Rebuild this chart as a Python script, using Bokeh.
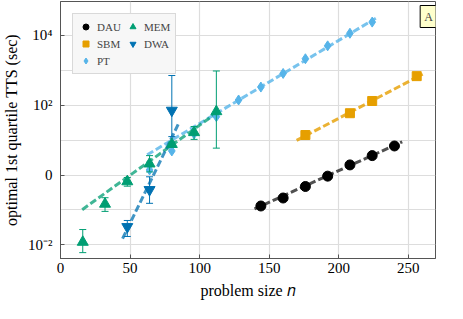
from bokeh.plotting import figure
from bokeh.models import (Range1d, FixedTicker, CustomJSTickFormatter, Whisker, TeeHead,
                          ColumnDataSource, Legend, LegendItem, Label)
from bokeh.embed import file_html
from bokeh.resources import INLINE

# ---- data ----
dau_n = [144, 160, 176, 192, 208, 224, 240]
dau_tts = [0.13, 0.22, 0.47, 0.93, 1.95, 3.6, 6.8]
dau_fit_n = [139.4, 245.6]
dau_fit_tts = [0.107, 8.97]

sbm_n = [176, 208, 224, 256]
sbm_tts = [14, 59, 132, 680]
sbm_fit_n = [169.7, 260.3]
sbm_fit_tts = [9.8, 776]

pt_n = [64, 80, 96, 112, 128, 144, 160, 176, 192, 208, 224]
pt_tts = [1.4, 4.9, 15, 47, 141, 331, 813, 2140, 5010, 11500, 24000]
pt_fit_n = [62.3, 226.6]
pt_fit_tts = [3.8, 30900]

mem_n = [16, 32, 48, 64, 80, 96, 112]
mem_tts = [0.012, 0.148, 0.65, 2.1, 7.6, 16.6, 66]
mem_lo = [0.006, 0.091, 0.48, 1.23, 6.3, 10.5, 5.9]
mem_hi = [0.0275, 0.224, 0.85, 3.6, 8.9, 24.5, 955]
mem_fit_n = [15.6, 113.3]
mem_fit_tts = [0.102, 64.6]

dwa_n = [48, 64, 80]
dwa_tts = [0.033, 0.38, 71]
dwa_lo = [0.0174, 0.155, 12.6]
dwa_hi = [0.050, 0.89, 708]
dwa_fit_n = [44.6, 85.3]
dwa_fit_tts = [0.0151, 32.4]

x_ticks = [0, 50, 100, 150, 200, 250]
y_ticks = [1e-2, 1, 1e2, 1e4]
y_minor = [1e-3, 1e-1, 1e1, 1e3]

FONT = "Liberation Serif"
C_DAU, C_DAU_LINE = "#000000", "#333333"
C_SBM = "#E69F00"
C_PT = "#56B4E9"
C_MEM = "#009E73"
C_DWA = "#0072B2"

p = figure(width=447, height=303, y_axis_type="log",
           x_range=Range1d(0, 269.5), y_range=Range1d(10 ** -2.39, 10 ** 4.97),
           output_backend="svg", toolbar_location=None,
           min_border_left=56, min_border_right=12, min_border_top=1, min_border_bottom=45)

p.background_fill_color = "white"
p.outline_line_color = "#555555"
p.outline_line_width = 1

# axes
p.xaxis.ticker = FixedTicker(ticks=x_ticks)
p.yaxis.ticker = FixedTicker(ticks=y_ticks, minor_ticks=y_minor)
p.yaxis.formatter = CustomJSTickFormatter(code="""
const k = Math.round(Math.log10(tick));
const m = {"-2": "10\u207b\u00b2", "0": "0", "2": "10\u00b2", "4": "10\u2074"};
return (k in m) ? m[k] : "";
""")
for ax in (p.xaxis, p.yaxis):
    ax.axis_line_color = "#555555"
    ax.major_tick_line_color = "#555555"
    ax.major_tick_in = 4
    ax.major_tick_out = 0
    ax.minor_tick_line_color = None
    ax.major_label_text_font = FONT
    ax.major_label_text_font_size = "15px"
    ax.major_label_text_color = "black"
    ax.axis_label_text_font = FONT
    ax.axis_label_text_font_size = "16px"
    ax.axis_label_text_font_style = "normal"
    ax.axis_label_text_color = "black"
    ax.major_label_standoff = 4
p.xaxis.axis_label = "problem size \U0001D45B"
p.yaxis.axis_label = "optimal 1st quartile TTS (sec)"
p.xaxis.axis_label_standoff = 6
p.yaxis.axis_label_standoff = 5

p.xgrid.grid_line_color = "#dddddd"
p.ygrid.grid_line_color = "#dddddd"
p.ygrid.minor_grid_line_color = "#dddddd"
p.xgrid.grid_line_width = 1.2
p.ygrid.grid_line_width = 1.2
p.ygrid.minor_grid_line_width = 1.2

# fit lines
dash = "7 3"
p.line(dau_fit_n, dau_fit_tts, line_color=C_DAU_LINE, line_width=3, line_dash=dash, line_alpha=0.85)
p.line(sbm_fit_n, sbm_fit_tts, line_color=C_SBM, line_width=3, line_dash=dash, line_alpha=0.8)
p.line(pt_fit_n, pt_fit_tts, line_color=C_PT, line_width=3, line_dash=dash, line_alpha=0.8)
p.line(mem_fit_n, mem_fit_tts, line_color=C_MEM, line_width=3, line_dash=dash, line_alpha=0.75)
p.line(dwa_fit_n, dwa_fit_tts, line_color=C_DWA, line_width=3, line_dash=dash, line_alpha=0.75)

# error bars
mem_src = ColumnDataSource(dict(n=mem_n, t=mem_tts, lo=mem_lo, hi=mem_hi))
dwa_src = ColumnDataSource(dict(n=dwa_n, t=dwa_tts, lo=dwa_lo, hi=dwa_hi))
for src, col in ((mem_src, C_MEM), (dwa_src, C_DWA)):
    w = Whisker(source=src, base="n", lower="lo", upper="hi", line_color=col, line_width=1,
                upper_head=TeeHead(size=7, line_color=col, line_width=1),
                lower_head=TeeHead(size=7, line_color=col, line_width=1), level="glyph")
    p.add_layout(w)

# markers
r_dau = p.scatter(dau_n, dau_tts, marker="circle", size=10, fill_color=C_DAU, line_color=C_DAU)
r_sbm = p.scatter(sbm_n, sbm_tts, marker="square", size=9, fill_color=C_SBM, line_color=C_SBM)
r_pt = p.scatter(pt_n, pt_tts, marker="diamond", size=10, fill_color=C_PT, line_color=C_PT)
r_mem = p.scatter("n", "t", source=mem_src, marker="triangle", size=11, fill_color=C_MEM, line_color=C_MEM)
r_dwa = p.scatter("n", "t", source=dwa_src, marker="inverted_triangle", size=11, fill_color=C_DWA, line_color=C_DWA)

legend = Legend(items=[LegendItem(label="DAU", renderers=[r_dau]),
                       LegendItem(label="SBM", renderers=[r_sbm]),
                       LegendItem(label="PT", renderers=[r_pt]),
                       LegendItem(label="MEM", renderers=[r_mem]),
                       LegendItem(label="DWA", renderers=[r_dwa])],
                location="top_left", orientation="vertical", nrows=3,
                label_text_font=FONT, label_text_font_size="11px",
                glyph_width=15, glyph_height=15, spacing=2, padding=5, margin=12,
                label_standoff=4, label_height=15, label_width=26,
                background_fill_color="#f7f7f7", background_fill_alpha=1.0,
                border_line_color="#bbbbbb", border_line_width=1)
p.add_layout(legend)

lab = Label(x=368, y=242, x_units="screen", y_units="screen", text="A",
            text_align="center", text_baseline="middle", text_font=FONT, text_font_size="12px",
            background_fill_color="#ffffcc", border_line_color="black", border_line_width=1,
            padding=4)
p.add_layout(lab)

open("out.html", "w").write(file_html(p, INLINE))
